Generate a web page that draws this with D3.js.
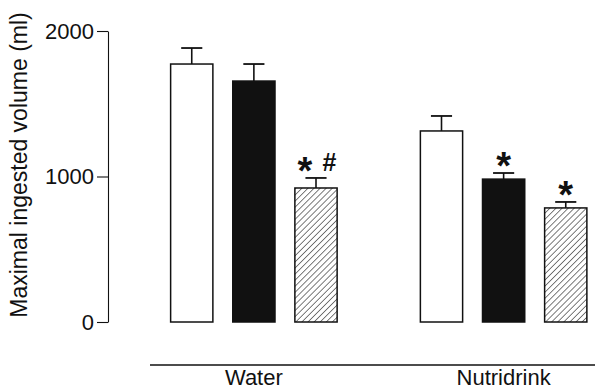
<!DOCTYPE html>
<html>
<head>
<meta charset="utf-8">
<script src="https://cdn.jsdelivr.net/npm/d3@7"></script>
<style>
    body { margin: 0; background: #fff; }
    text { font-family: "Liberation Sans", Arial, sans-serif; fill: #111; }
</style>
</head>
<body>
<div id="chart"></div>
<script>
    // values (ml)
    let groups = ["Water", "Nutridrink"];
    let series = ["white", "black", "hatched"];
    let waterMeans = [1773, 1656, 921];
    let waterErrors = [110, 117, 69];
    let nutriMeans = [1313, 982, 784];
    let nutriErrors = [103, 42, 41];
    let waterMarks = ["", "", "*#"];
    let nutriMarks = ["", "*", "*"];
    let yTicks = [0, 1000, 2000];

    let width = 601, height = 390;

    let rows = [];
    series.forEach((s, i) => {
        rows.push({ group: "Water", series: s, mean: waterMeans[i], err: waterErrors[i], mark: waterMarks[i] });
        rows.push({ group: "Nutridrink", series: s, mean: nutriMeans[i], err: nutriErrors[i], mark: nutriMarks[i] });
    });

    let svg = d3.select("#chart")
        .append("svg")
        .attr("width", width)
        .attr("height", height);

    // hatch pattern for the third series
    svg.append("defs")
        .append("pattern")
        .attr("id", "hatch")
        .attr("patternUnits", "userSpaceOnUse")
        .attr("width", 4.3)
        .attr("height", 4.3)
        .attr("patternTransform", "rotate(45)")
        .call(p => {
            p.append("rect").attr("width", 4.3).attr("height", 4.3).attr("fill", "#fff");
            p.append("line")
                .attr("x1", 0).attr("y1", 0).attr("x2", 0).attr("y2", 4.3)
                .attr("stroke", "#111").attr("stroke-width", 1.1);
        });

    let x0 = d3.scaleBand()
        .domain(groups)
        .range([129, 628.5]);

    let x1 = d3.scaleBand()
        .domain(series)
        .range([0, x0.bandwidth()])
        .paddingInner(0.32)
        .paddingOuter(0.67);

    let y = d3.scaleLinear()
        .domain([0, 2000])
        .range([322, 31]);

    // y axis
    let yAxis = svg.append("g")
        .attr("transform", "translate(108, 0)")
        .call(d3.axisLeft(y).tickValues(yTicks).tickFormat(d3.format("d"))
            .tickSize(11).tickSizeOuter(0).tickPadding(3));
    yAxis.selectAll("path, line").attr("stroke", "#111").attr("stroke-width", 1.1);
    yAxis.selectAll("text").style("font-size", "22px").attr("fill", "#111")
        .style("font-family", "'Liberation Sans', Arial, sans-serif");

    svg.append("text")
        .attr("transform", "translate(27, 165) rotate(-90)")
        .attr("text-anchor", "middle")
        .style("font-size", "23px")
        .text("Maximal ingested volume (ml)");

    let fill = { white: "#fff", black: "#111", hatched: "url(#hatch)" };

    let bars = svg.selectAll(".barg")
        .data(rows)
        .join("g")
        .attr("class", "barg")
        .attr("transform", d => `translate(${x0(d.group) + x1(d.series)}, 0)`);

    // error bars (upper only)
    bars.append("line")
        .attr("x1", x1.bandwidth() / 2).attr("x2", x1.bandwidth() / 2)
        .attr("y1", d => y(d.mean)).attr("y2", d => y(d.mean + d.err))
        .attr("stroke", "#111").attr("stroke-width", 1.6);
    bars.append("line")
        .attr("x1", x1.bandwidth() * 0.25).attr("x2", x1.bandwidth() * 0.75)
        .attr("y1", d => y(d.mean + d.err)).attr("y2", d => y(d.mean + d.err))
        .attr("stroke", "#111").attr("stroke-width", 1.8);

    bars.append("rect")
        .attr("x", 0)
        .attr("y", d => y(d.mean))
        .attr("width", x1.bandwidth())
        .attr("height", d => y(0) - y(d.mean))
        .attr("fill", d => fill[d.series])
        .attr("stroke", "#111")
        .attr("stroke-width", 1.5);

    // significance marks
    bars.filter(d => d.mark.includes("*"))
        .append("text")
        .attr("x", d => d.mark.includes("#") ? x1.bandwidth() / 2 - 11 : x1.bandwidth() / 2)
        .attr("y", d => y(d.mean + d.err) + 6)
        .attr("text-anchor", "middle")
        .style("font-size", "38px")
        .style("font-weight", "bold")
        .text("*");
    bars.filter(d => d.mark.includes("#"))
        .append("text")
        .attr("x", x1.bandwidth() / 2 + 13.5)
        .attr("y", d => y(d.mean + d.err) - 7)
        .attr("text-anchor", "middle")
        .style("font-size", "25px")
        .style("font-weight", "bold")
        .text("#");

    // group line and labels
    svg.append("line")
        .attr("x1", 150).attr("x2", 595)
        .attr("y1", 365).attr("y2", 365)
        .attr("stroke", "#111").attr("stroke-width", 1.5);

    svg.selectAll(".glabel")
        .data(groups)
        .join("text")
        .attr("class", "glabel")
        .attr("x", d => x0(d) + x0.bandwidth() / 2)
        .attr("y", 385)
        .attr("text-anchor", "middle")
        .style("font-size", "22px")
        .text(d => d);
</script>
</body>
</html>
